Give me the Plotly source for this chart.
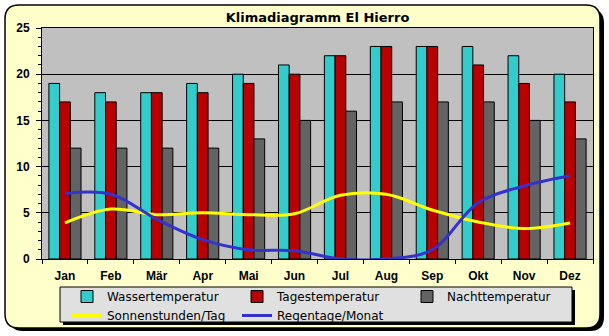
import plotly.graph_objects as go

months = ["Jan", "Feb", "Mär", "Apr", "Mai", "Jun", "Jul", "Aug", "Sep", "Okt", "Nov", "Dez"]
wasser = [19, 18, 18, 19, 20, 21, 22, 23, 23, 23, 22, 20]
tages = [17, 17, 18, 18, 19, 20, 22, 23, 23, 21, 19, 17]
nacht = [12, 12, 12, 12, 13, 15, 16, 17, 17, 17, 15, 13]
sonne = [3.9, 5.4, 4.8, 5.0, 4.8, 4.9, 6.9, 7.0, 5.3, 4.0, 3.3, 3.9]
regen = [7.1, 7.0, 4.3, 2.1, 1.0, 0.9, 0.0, 0.0, 1.0, 6.1, 7.9, 9.0]

W, H = 609, 336
L, R, T, B = 42, 593, 28, 259
FONT = "Liberation Sans, Arial, sans-serif"
LFONT = "DejaVu Sans, sans-serif"


def px(x):
    return (x - L) / (R - L)


def py(y):
    return (B - y) / (B - T)


def rounded(x0, y0, x1, y1, r):
    rx = r / (R - L)
    ry = r / (B - T)
    X0, X1, Y0, Y1 = px(x0), px(x1), py(y0), py(y1)
    return (f"M {X0+rx},{Y0} L {X1-rx},{Y0} Q {X1},{Y0} {X1},{Y0-ry} "
            f"L {X1},{Y1+ry} Q {X1},{Y1} {X1-rx},{Y1} L {X0+rx},{Y1} "
            f"Q {X0},{Y1} {X0},{Y1+ry} L {X0},{Y0-ry} Q {X0},{Y0} {X0+rx},{Y0} Z")


fig = go.Figure()
fig.add_trace(go.Bar(x=months, y=wasser, name="Wassertemperatur",
                     marker=dict(color="#33CCCC", line=dict(color="black", width=1))))
fig.add_trace(go.Bar(x=months, y=tages, name="Tagestemperatur",
                     marker=dict(color="#B80000", line=dict(color="black", width=1))))
fig.add_trace(go.Bar(x=months, y=nacht, name="Nachttemperatur",
                     marker=dict(color="#636363", line=dict(color="black", width=1))))
fig.add_trace(go.Scatter(x=months, y=sonne, name="Sonnenstunden/Tag", mode="lines",
                         line=dict(color="#FFFF00", width=3, shape="spline", smoothing=1)))
fig.add_trace(go.Scatter(x=months, y=regen, name="Regentage/Monat", mode="lines",
                         line=dict(color="#3333CC", width=3, shape="spline", smoothing=1)))

shapes = [
    dict(type="path", xref="paper", yref="paper", layer="below",
         path=rounded(9, 9, 604, 331, 14), fillcolor="black", line=dict(width=0)),
    dict(type="path", xref="paper", yref="paper", layer="below",
         path=rounded(5, 5, 600, 328, 14), fillcolor="#FFFFCC", line=dict(color="black", width=1.5)),
    dict(type="rect", xref="paper", yref="paper", layer="below",
         x0=0, x1=1, y0=0, y1=1, fillcolor="#C0C0C0", line=dict(width=0)),
    dict(type="rect", xref="paper", yref="paper", layer="below",
         x0=px(63), x1=px(575), y0=py(325), y1=py(290), fillcolor="black", line=dict(width=0)),
    dict(type="rect", xref="paper", yref="paper", layer="below",
         x0=px(60), x1=px(572), y0=py(322), y1=py(287), fillcolor="#E0E0E0",
         line=dict(color="black", width=1)),
]

fig.update_layout(
    width=W, height=H,
    margin=dict(l=L, r=W - R, t=T, b=H - B, autoexpand=False),
    paper_bgcolor="white", plot_bgcolor="#C0C0C0",
    barmode="group", bargap=0.3, bargroupgap=0,
    font=dict(family=FONT, size=12, color="black"),
    title=dict(text="<b>Klimadiagramm El Hierro</b>", x=0.5, xref="paper", xanchor="center",
               y=1 - 17 / H, yanchor="middle",
               font=dict(size=13, family=LFONT)),
    shapes=shapes,
    showlegend=True,
    legend=dict(orientation="h", x=px(67), xanchor="left", y=py(282), yanchor="top",
                bgcolor="rgba(0,0,0,0)", borderwidth=0,
                font=dict(size=12, family=LFONT), entrywidth=125, entrywidthmode="pixels",
                traceorder="normal", itemwidth=30, tracegroupgap=0),
    xaxis=dict(type="category", tickson="boundaries", ticks="outside", ticklen=4,
               tickcolor="black", showline=True, linecolor="black", mirror=True,
               showgrid=False, ticklabelstandoff=6,
               tickfont=dict(size=12, family=FONT, weight="bold")),
    yaxis=dict(range=[0, 25], dtick=5, ticks="outside", ticklen=5, tickcolor="black",
               showline=True, linecolor="black", mirror=True,
               showgrid=True, gridcolor="black", gridwidth=1, zeroline=False,
               ticklabelstandoff=4,
               minor=dict(dtick=1, ticks="outside", ticklen=3, tickcolor="black", showgrid=False),
               tickfont=dict(size=12, family=FONT, weight="bold")),
)

fig.write_html("out.html")
